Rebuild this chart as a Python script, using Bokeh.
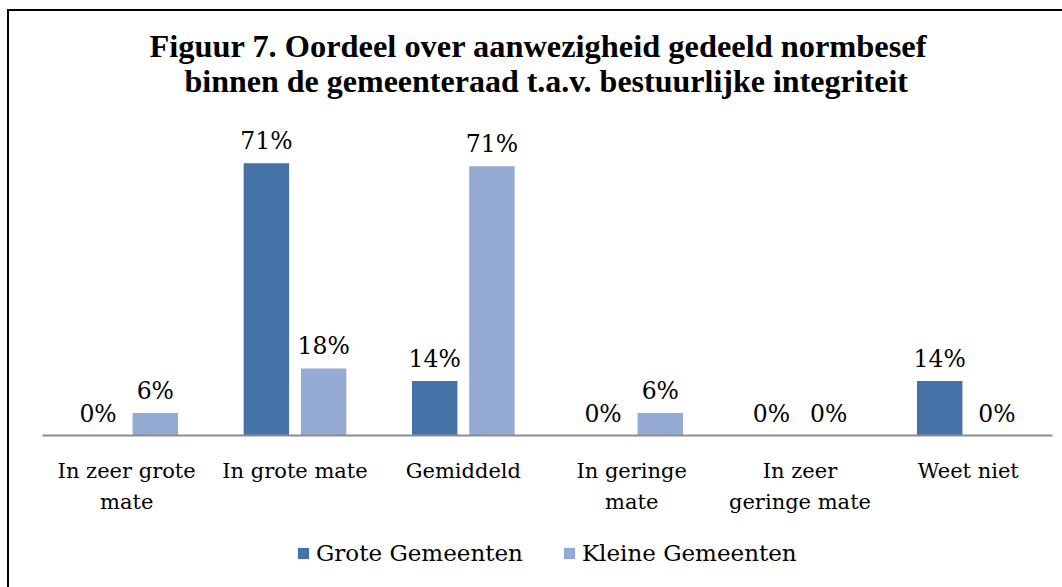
from bokeh.plotting import figure
from bokeh.layouts import column
from bokeh.models import (FactorRange, ColumnDataSource, Legend, LegendItem, Title)
from bokeh.transform import dodge
from bokeh.core.properties import value
from bokeh.embed import file_html
from bokeh.resources import INLINE

categories = ["In zeer grote\nmate", "In grote mate", "Gemiddeld",
              "In geringe\nmate", "In zeer\ngeringe mate", "Weet niet"]
series_names = ["Grote Gemeenten", "Kleine Gemeenten"]
grote = [0, 71.4, 14.3, 0, 0, 14.3]
kleine = [5.9, 17.6, 70.6, 5.9, 0, 0]
title_lines = ["Figuur 7. Oordeel over aanwezigheid gedeeld normbesef",
               "binnen de gemeenteraad t.a.v. bestuurlijke integriteit"]

colors = ["#4572A7", "#95ABD3"]
FONT = "DejaVu Serif"
TFONT = "Liberation Serif"

src = ColumnDataSource(dict(
    cat=categories,
    grote=grote,
    kleine=kleine,
    grote_lbl=[f"{round(v)}%" for v in grote],
    kleine_lbl=[f"{round(v)}%" for v in kleine],
))

W = 1053
p = figure(x_range=FactorRange(*categories), y_range=(0, 80.5),
           width=W, height=515, output_backend="svg", toolbar_location=None,
           y_axis_location=None, min_border_left=33, min_border_right=10,
           min_border_top=117, min_border_bottom=91)
p.outline_line_color = None
p.xgrid.grid_line_color = None
p.ygrid.grid_line_color = None
p.title.visible = False

# second line (nearest the plot) first, then the first line above it
p.add_layout(Title(text=title_lines[1], align="left", offset=142, text_font=TFONT,
                   text_font_style="bold", text_font_size="32px", text_color="black",
                   standoff=59), "above")
p.add_layout(Title(text=title_lines[0], align="left", offset=107, text_font=TFONT,
                   text_font_style="bold", text_font_size="32.4px", text_color="black",
                   standoff=-65), "above")

r1 = p.vbar(x=dodge("cat", -0.17, range=p.x_range), top="grote", width=0.27,
            source=src, fill_color=colors[0], line_color=None)
r2 = p.vbar(x=dodge("cat", 0.17, range=p.x_range), top="kleine", width=0.27,
            source=src, fill_color=colors[1], line_color=None)

for col, off in (("grote", -0.17), ("kleine", 0.17)):
    p.text(x=dodge("cat", off, range=p.x_range), y=col, text=col + "_lbl", source=src,
           text_align="center", text_baseline="alphabetic", y_offset=-22,
           text_font=value(FONT), text_font_size="23.5px", text_color="black")

ax = p.xaxis[0]
ax.axis_line_color = "#8C8C8C"
ax.axis_line_width = 2
ax.major_tick_line_color = None
ax.minor_tick_line_color = None
ax.major_label_text_font = FONT
ax.major_label_text_font_size = "21px"
ax.major_label_text_color = "black"
ax.major_label_text_line_height = 1.3
ax.major_label_standoff = 17

# legend strip below the chart; swatches come from hidden copies of the two bar series
lf = figure(x_range=FactorRange(*categories), width=W, height=61, output_backend="svg",
            toolbar_location=None, x_axis_location=None, y_axis_location=None,
            min_border_left=0, min_border_right=0, min_border_top=0, min_border_bottom=0)
lf.outline_line_color = None
lf.xgrid.grid_line_color = None
lf.ygrid.grid_line_color = None
l1 = lf.vbar(x=dodge("cat", -0.17, range=lf.x_range), top="grote", width=0.27,
             source=src, fill_color=colors[0], line_color=None, visible=False)
l2 = lf.vbar(x=dodge("cat", 0.17, range=lf.x_range), top="kleine", width=0.27,
             source=src, fill_color=colors[1], line_color=None, visible=False)
legend = Legend(items=[LegendItem(label=series_names[0], renderers=[l1]),
                       LegendItem(label=series_names[1], renderers=[l2])],
                orientation="horizontal", location=(254, 21),
                label_text_font=FONT, label_text_font_size="23px", label_text_color="black",
                glyph_width=14, glyph_height=14, label_standoff=6, spacing=39,
                padding=0, margin=0, label_height=25,
                inactive_fill_alpha=0, click_policy="none",
                border_line_color=None, background_fill_alpha=0)
lf.add_layout(legend, "center")

layout = column(p, lf, spacing=0, margin=(9, 0, 0, 7),
                styles={"border-left": "2px solid black", "border-top": "2px solid black"})

open("out.html", "w").write(file_html(layout, INLINE))
